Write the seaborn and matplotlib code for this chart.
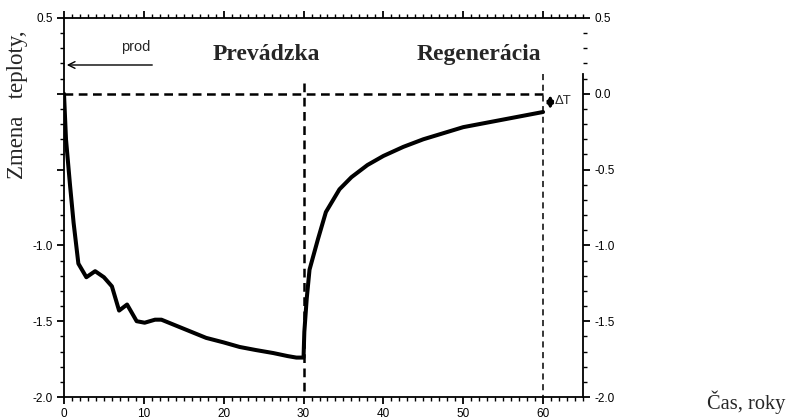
import matplotlib
matplotlib.use("Agg")
from matplotlib import pyplot as plt
from matplotlib.ticker import MultipleLocator, FixedFormatter, FixedLocator
import seaborn as sns
import pandas as pd

sns.set_theme(style='ticks')
plt.rcParams['font.family'] = ['Liberation Sans', 'DejaVu Sans']

# temperature change over time (years)
years = [0, 0.25, 0.75, 1.2, 1.8, 2.8, 3.9, 5.0, 6.0, 6.9, 7.9, 9.1, 10.1, 11.4,
         12.2, 15, 17.8, 20, 22, 24, 26.2, 28, 29.1, 30.0, 30.1, 30.4, 30.75,
         31.8, 32.8, 34.5, 36, 38, 40, 42.5, 45, 50, 55, 60]
dT = [0, -0.3, -0.6, -0.85, -1.12, -1.21, -1.17, -1.21, -1.27, -1.43, -1.39,
      -1.50, -1.51, -1.49, -1.49, -1.55, -1.61, -1.64, -1.67, -1.69, -1.71,
      -1.73, -1.74, -1.74, -1.57, -1.35, -1.16, -0.96, -0.78, -0.63, -0.55,
      -0.47, -0.41, -0.35, -0.30, -0.22, -0.17, -0.12]

yticks = [0.5, 0.0, -0.5, -1.0, -1.5, -2.0]
left_labels = ['0.5', '', '', '-1.0', '-1.5', '-2.0']
right_labels = ['0.5', '0.0', '-0.5', '-1.0', '-1.5', '-2.0']
xticks = [0, 10, 20, 30, 40, 50, 60]

curve = pd.DataFrame({'years': years, 'dT': dT})

fig = plt.figure(figsize=(7.88, 4.2), dpi=100)
ax = fig.add_axes([64/788, 1-397/420, (583-64)/788, (397-18)/420])

sns.lineplot(data=curve, x='years', y='dT', sort=False, estimator=None,
             color='black', lw=2.9, ax=ax)

# dashed reference lines
ax.plot([0, 60], [0, 0], color='black', lw=1.8, ls=(0, (3.5, 2.2)))
ax.plot([30, 30], [0.07, -2.0], color='black', lw=1.8, ls=(0, (3.5, 2.2)))
ax.plot([60, 60], [0.13, -2.0], color='black', lw=1.1, ls=(0, (4, 3)))

ax.set_xlim(0, 65)
ax.set_ylim(-2.0, 0.5)

ax.xaxis.set_major_locator(FixedLocator(xticks))
ax.xaxis.set_minor_locator(MultipleLocator(1))
ax.yaxis.set_major_locator(FixedLocator(yticks))
ax.yaxis.set_major_formatter(FixedFormatter(left_labels))
ax.yaxis.set_minor_locator(MultipleLocator(0.1))

for s in ax.spines.values():
    s.set_visible(True)
    s.set_color('black')
    s.set_linewidth(1.3)
ax.spines['right'].set_bounds(-2.0, 0.13)

ax.tick_params(axis='both', which='major', direction='out', length=5, width=1.3,
               colors='black', labelsize=8.5, pad=3)
ax.tick_params(axis='both', which='minor', direction='out', length=3, width=1,
               colors='black')
ax.tick_params(axis='x', top=True, which='both')
ax.tick_params(axis='x', labeltop=False, pad=3)
ax.tick_params(axis='y', right=True, which='both')

sec = ax.secondary_yaxis('right')
sec.set_yticks(yticks)
sec.set_yticklabels(right_labels)
sec.tick_params(length=0, labelsize=8.5, pad=8, colors='black')
sec.spines['right'].set_visible(False)

ax.set_xlabel('')
ax.set_ylabel('')

# annotations
ax.annotate('', xy=(0, 0.19), xytext=(11.4, 0.19),
            arrowprops=dict(arrowstyle='->', color='black', lw=1))
ax.text(9.0, 0.31, 'prod', ha='center', va='center', fontsize=10.5)
ax.text(25.4, 0.224, 'Prevádzka', ha='center', va='baseline', fontsize=17,
        fontweight='bold', family='Liberation Serif')
ax.text(52.0, 0.224, 'Regenerácia', ha='center', va='baseline', fontsize=17,
        fontweight='bold', family='Liberation Serif')
ax.annotate('', xy=(60.9, 0.01), xytext=(60.9, -0.12),
            arrowprops=dict(arrowstyle='<|-|>', color='black', lw=2,
                            mutation_scale=9))
ax.text(61.5, -0.05, 'ΔT', ha='left', va='center', fontsize=9.5)

fig.text(18/788, 1-105/420, 'Zmena   teploty,', rotation=90, ha='center',
         va='center', fontsize=16.5, family='Liberation Serif')
fig.text(746/788, 1-402/420, 'Čas, roky', ha='center', va='center',
         fontsize=14.7, family='Liberation Serif')

fig.savefig('out.png', dpi=100)
